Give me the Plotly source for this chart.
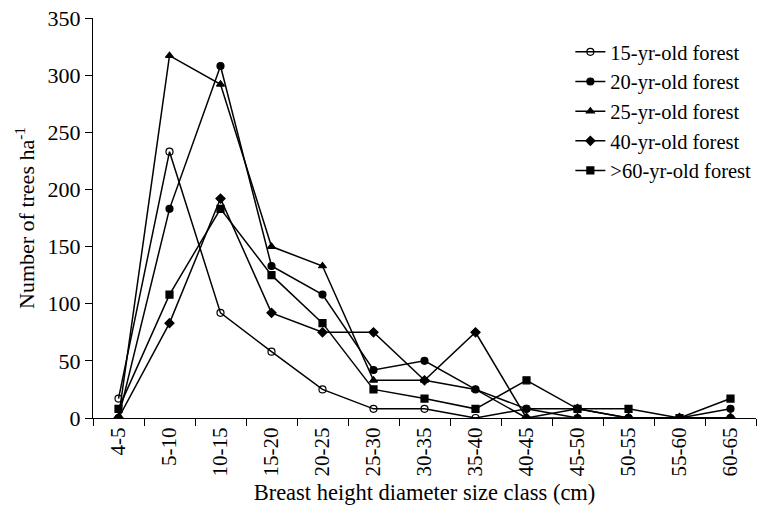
import plotly.graph_objects as go

size_classes = ["4-5", "5-10", "10-15", "15-20", "20-25", "25-30", "30-35",
                "35-40", "40-45", "45-50", "50-55", "55-60", "60-65"]

forest_15 = [17, 233, 92, 58, 25, 8, 8, 0, 8, 8, 0, 0, 0]
forest_20 = [0, 183, 308, 133, 108, 42, 50, 25, 8, 0, 0, 0, 8]
forest_25 = [0, 317, 292, 150, 133, 33, 33, 25, 0, 0, 0, 0, 0]
forest_40 = [0, 83, 192, 92, 75, 75, 33, 75, 0, 8, 0, 0, 0]
forest_60 = [8, 108, 183, 125, 83, 25, 17, 8, 33, 8, 8, 0, 17]

series = [
    ("15-yr-old forest", forest_15, "circle-open"),
    ("20-yr-old forest", forest_20, "circle"),
    ("25-yr-old forest", forest_25, "triangle-up"),
    ("40-yr-old forest", forest_40, "diamond"),
    (">60-yr-old forest", forest_60, "square"),
]

FONT = "Liberation Serif, Times New Roman, serif"

fig = go.Figure()
for i, (name, vals, sym) in enumerate(series):
    fig.add_trace(go.Scatter(
        x=size_classes, y=vals, name=name, mode="lines+markers",
        legendgroup=f"g{i}",
        line=dict(color="black", width=1.5),
        marker=dict(symbol=sym, size=7, color="black",
                    line=dict(color="black", width=1.2)),
    ))

fig.update_layout(
    width=757, height=522,
    margin=dict(l=93, r=1, t=18, b=104),
    paper_bgcolor="white", plot_bgcolor="white",
    font=dict(family=FONT, size=22, color="black"),
    showlegend=True,
    legend=dict(x=0.72, y=0.965, xanchor="left", yanchor="top",
                bgcolor="rgba(0,0,0,0)", font=dict(family=FONT, size=20.5),
                tracegroupgap=0, itemwidth=30),
    xaxis=dict(
        type="category", range=[-0.5, 12.5],
        tickson="boundaries", ticks="outside", ticklen=7, tickcolor="black",
        tickangle=-90, showline=True, linecolor="black", linewidth=1,
        showgrid=False, zeroline=False, tickfont=dict(family=FONT, size=21),
        title=dict(text="Breast height diameter size class (cm)", standoff=8,
                   font=dict(family=FONT, size=22.5)),
    ),
    yaxis=dict(
        range=[0, 350], dtick=50, ticks="outside", ticklen=7, tickcolor="black",
        showline=True, linecolor="black", linewidth=1,
        showgrid=False, zeroline=False, tickfont=dict(family=FONT, size=22),
        title=dict(text="Number of trees ha<sup>-1</sup>", standoff=6,
                   font=dict(family=FONT, size=22)),
    ),
)

fig.write_html("out.html")
